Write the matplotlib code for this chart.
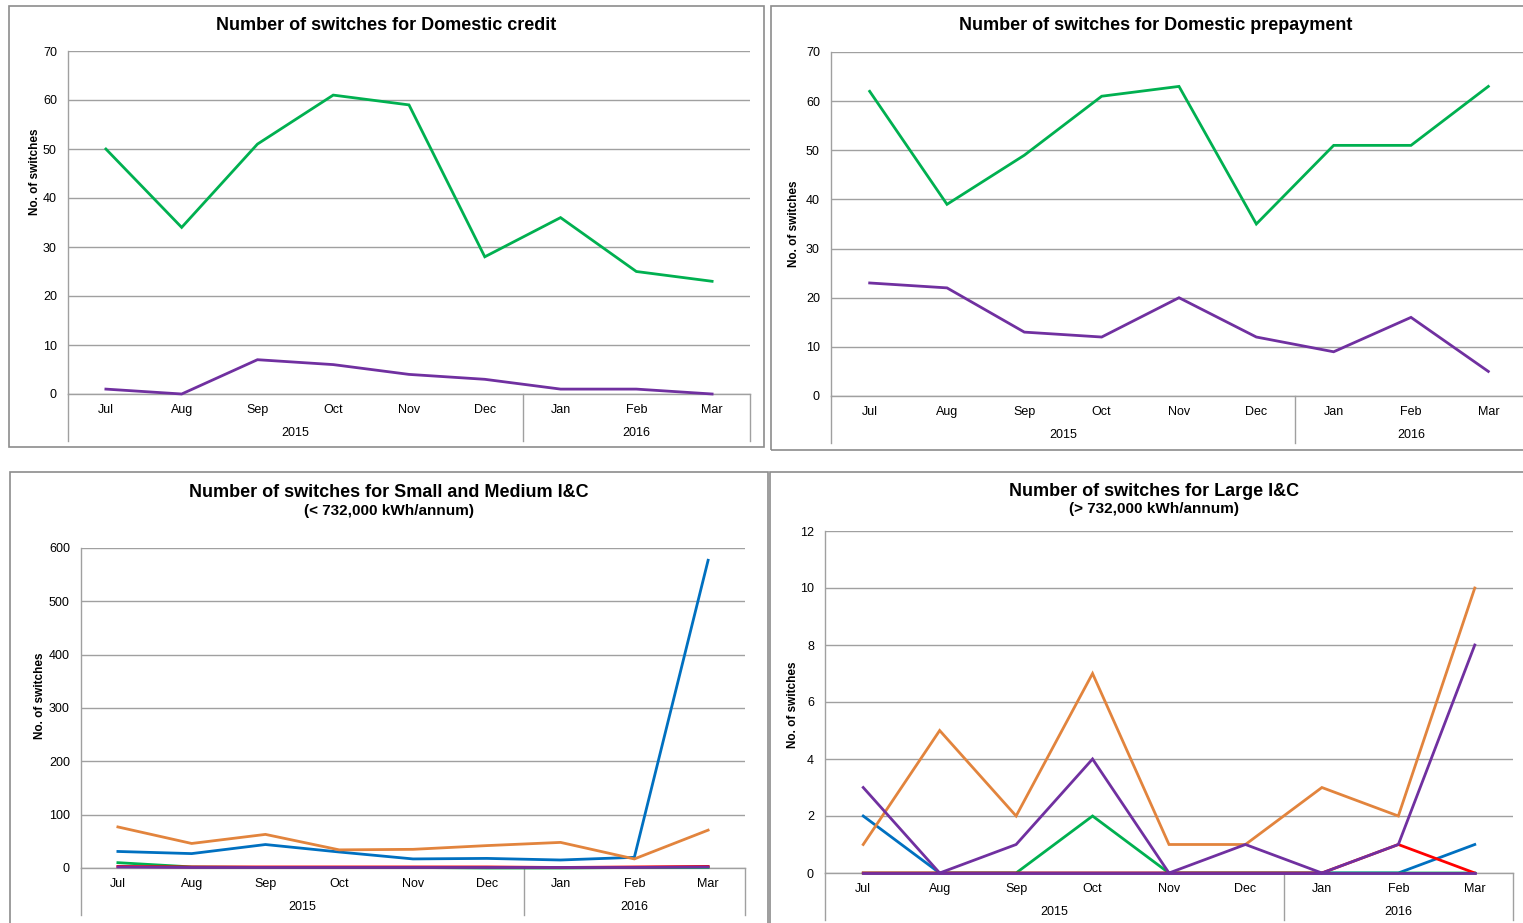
import matplotlib
matplotlib.use("Agg")
import matplotlib.pyplot as plt
from matplotlib.patches import Rectangle
import matplotlib.transforms as mtransforms

plt.rcParams['font.family'] = ['Liberation Sans', 'DejaVu Sans']

months = ["Jul", "Aug", "Sep", "Oct", "Nov", "Dec", "Jan", "Feb", "Mar"]
years = ["2015", "2016"]
year_spans = [(0, 5), (6, 8)]

# Domestic credit
dc_green = [50, 34, 51, 61, 59, 28, 36, 25, 23]
dc_purple = [1, 0, 7, 6, 4, 3, 1, 1, 0]

# Domestic prepayment
dp_green = [62, 39, 49, 61, 63, 35, 51, 51, 63]
dp_purple = [23, 22, 13, 12, 20, 12, 9, 16, 5]

# Small and Medium I&C
sm_blue = [31, 27, 44, 30, 17, 18, 15, 20, 577]
sm_orange = [77, 46, 63, 34, 35, 42, 48, 17, 71]
sm_green = [10, 2, 1, 1, 1, 0, 0, 1, 1]
sm_red = [3, 2, 2, 2, 2, 2, 1, 2, 3]
sm_purple = [2, 1, 1, 1, 1, 1, 1, 1, 2]

# Large I&C
lg_blue = [2, 0, 0, 0, 0, 0, 0, 0, 1]
lg_orange = [1, 5, 2, 7, 1, 1, 3, 2, 10]
lg_green = [0, 0, 0, 2, 0, 0, 0, 0, 0]
lg_red = [0, 0, 0, 0, 0, 0, 0, 1, 0]
lg_purple = [3, 0, 1, 4, 0, 1, 0, 1, 8]
lg_other = [0, 0, 0, 0, 0, 0, 0, 0, 0]

C_BLUE = "#0070C0"
C_ORANGE = "#E2843D"
C_GREEN = "#00B050"
C_RED = "#FF0000"
C_PURPLE = "#7030A0"

W, H = 1523, 923
fig = plt.figure(figsize=(W / 100, H / 100), dpi=100)

GRID = "#A0A0A0"
BOX = "#8C8C8C"


def fx(x):
    return x / W


def fy(y):
    return 1 - y / H


def box(x0, y0, x1, y1):
    r = Rectangle((fx(x0), fy(y1)), fx(x1) - fx(x0), fy(y0) - fy(y1),
                  transform=fig.transFigure, fill=False, edgecolor=BOX,
                  linewidth=1.2, zorder=0)
    fig.patches.append(r)


def panel(left, right, top, bottom, ymax, ystep, series, title, subtitle,
          title_xy, ylabel_xy, month_dy=16, year_dy=39, sep_dy=47):
    ax = fig.add_axes([fx(left), fy(bottom), fx(right) - fx(left), fy(top) - fy(bottom)])
    x = list(range(len(months)))
    for vals, col in series:
        ax.plot(x, vals, color=col, linewidth=2.0, solid_joinstyle='miter', clip_on=False, zorder=3)
    ax.set_xlim(-0.5, len(months) - 0.5)
    ax.set_ylim(0, ymax)
    ax.set_yticks(range(0, ymax + 1, ystep))
    ax.tick_params(axis='y', length=0, labelsize=9, pad=8)
    ax.set_xticks([])
    ax.grid(axis='y', color=GRID, linewidth=1.0)
    ax.set_axisbelow(True)
    for s in ['top', 'right']:
        ax.spines[s].set_visible(False)
    ax.spines['left'].set_color(GRID)
    ax.spines['bottom'].set_color(GRID)
    ax.spines['left'].set_linewidth(1.0)
    ax.spines['bottom'].set_linewidth(1.0)
    trans = mtransforms.blended_transform_factory(ax.transData, ax.transAxes)
    h = bottom - top
    for i, m in enumerate(months):
        ax.text(i, -month_dy / h, m, transform=trans, ha='center', va='center', fontsize=9)
    for yr, (a, b) in zip(years, year_spans):
        ax.text((a + b) / 2, -year_dy / h, yr, transform=trans, ha='center', va='center', fontsize=9)
    for xs in [-0.5, 5.5, 8.5]:
        ax.plot([xs, xs], [0, -sep_dy / h], transform=trans, color=GRID, linewidth=1.0, clip_on=False)
    fig.text(fx(title_xy[0]), fy(title_xy[1]), title, ha='center', va='center',
             fontsize=13, fontweight='bold')
    if subtitle:
        fig.text(fx(title_xy[0]), fy(title_xy[1] + 18), subtitle, ha='center',
                 va='center', fontsize=11, fontweight='bold')
    fig.text(fx(ylabel_xy[0]), fy(ylabel_xy[1]), "No. of switches", rotation=90,
             ha='center', va='center', fontsize=8.5, fontweight='bold')
    return ax


# boxes
box(9, 6, 764, 447)
box(771, 6, 1530, 450)
box(10, 472, 768, 930)
box(770, 472, 1530, 930)

panel(68, 750, 51, 394, 70, 10,
      [(dc_green, C_GREEN), (dc_purple, C_PURPLE)],
      "Number of switches for Domestic credit", None, (386, 25), (35, 172))

panel(831, 1527, 52, 396, 70, 10,
      [(dp_green, C_GREEN), (dp_purple, C_PURPLE)],
      "Number of switches for Domestic prepayment", None, (1156, 25), (794, 224))

panel(81, 745, 548, 868, 600, 100,
      [(sm_blue, C_BLUE), (sm_orange, C_ORANGE), (sm_green, C_GREEN),
       (sm_red, C_RED), (sm_purple, C_PURPLE)],
      "Number of switches for Small and Medium I&C", "(< 732,000 kWh/annum)",
      (389, 493), (40, 696))

panel(825, 1513, 531, 873, 12, 2,
      [(lg_blue, C_BLUE), (lg_orange, C_ORANGE), (lg_green, C_GREEN),
       (lg_red, C_RED), (lg_purple, C_PURPLE), (lg_other, C_PURPLE)],
      "Number of switches for Large I&C", "(> 732,000 kWh/annum)",
      (1154, 491), (793, 705))

fig.savefig("out.png", dpi=100)
